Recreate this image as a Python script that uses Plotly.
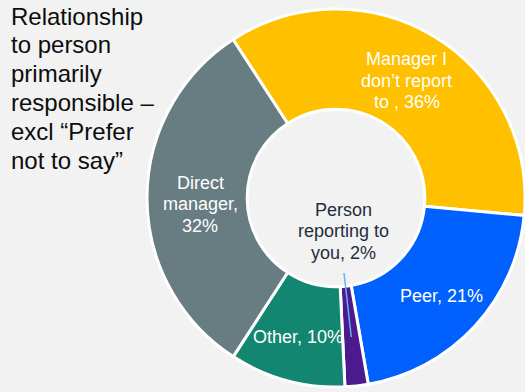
import math
import plotly.graph_objects as go

# Share of respondents by relationship to the person primarily responsible
labels = ["Manager I don’t report to ", "Peer", "Person reporting to you", "Other", "Direct manager"]
values = [36, 21, 2, 10, 32]
colors = ["#FFC000", "#0061FF", "#4B1A8E", "#138672", "#687D82"]
slice_text = [["Manager I", "don’t report", f"to , {values[0]}%"],
              [f"Peer, {values[1]}%"],
              ["Person", "reporting to", f"you, {values[2]}%"],
              [f"Other, {values[3]}%"],
              ["Direct", "manager,", f"{values[4]}%"]]

title_lines = ["Relationship", "to person", "primarily", "responsible –", "excl “Prefer", "not to say”"]

W, H = 525, 392
cx, cy = 336, 198           # pie centre in pixels
R = min(190, W - cx)        # outer radius, kept inside the page
hole = 0.47
rotation = -33
label_radius = [137, 144, None, 144, 136]   # distance of each slice label from the centre
label_nudge_y = [0, 0, 0, 0, 6]
LINE = 21.5                 # line spacing of the slice labels
FONT = "Liberation Sans, Arial, sans-serif"

fig = go.Figure(go.Pie(
    labels=labels,
    values=values,
    textinfo="none",
    marker=dict(colors=colors, line=dict(color="white", width=3)),
    hole=hole,
    sort=False,
    direction="clockwise",
    rotation=rotation,
    showlegend=False,
    hoverinfo="label+value",
    domain=dict(x=[(cx - R) / W, (cx + R) / W], y=[(H - cy - R) / H, (H - cy + R) / H]),
))

total = sum(values)


def mid_angle(i):
    start = sum(values[:i]) / total * 360 + rotation
    return math.radians(start + values[i] / total * 360 / 2)


def to_paper(px, py):
    return px / W, 1 - py / H


def add_block(lines, px, py, color):
    """Centred multi-line label, one annotation per line."""
    first = py - LINE * (len(lines) - 1) / 2
    for k, line in enumerate(lines):
        x, y = to_paper(px, first + LINE * k)
        fig.add_annotation(x=x, y=y, xref="paper", yref="paper", text=line,
                           showarrow=False, xanchor="center", yanchor="middle",
                           font=dict(family=FONT, size=18, color=color))


# slice labels placed at each slice's mid angle
for i, lines in enumerate(slice_text):
    if label_radius[i] is None:
        continue
    a = mid_angle(i)
    add_block(lines, cx + label_radius[i] * math.sin(a),
              cy - label_radius[i] * math.cos(a) + label_nudge_y[i], "white")

# leader line from the small slice to its label in the hole
a = mid_angle(2)
tip_r = R * 0.74
x1, y1 = to_paper(cx + tip_r * math.sin(a), cy - tip_r * math.cos(a))
x0, y0 = to_paper(cx + 8, cy + 75)
fig.add_shape(type="line", xref="paper", yref="paper", x0=x0, y0=y0, x1=x1, y1=y1,
              line=dict(color="#5BB8F0", width=1.5))

add_block(slice_text[2], cx + 7, cy + 33, "#1F2D3D")

# title block, one line per annotation for tight line spacing
for k, line in enumerate(title_lines):
    x, y = to_paper(9, 16 + 28.8 * k)
    fig.add_annotation(x=x, y=y, xref="paper", yref="paper", text=line,
                       showarrow=False, xanchor="left", yanchor="middle",
                       font=dict(family=FONT, size=24, color="#0D0D0D"))

fig.update_layout(
    width=W, height=H,
    margin=dict(l=0, r=0, t=0, b=0),
    paper_bgcolor="#F2F2F2",
    plot_bgcolor="#F2F2F2",
)

fig.write_html("out.html")
